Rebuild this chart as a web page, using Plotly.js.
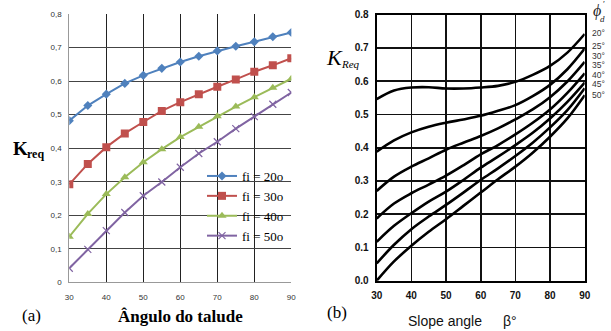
<!DOCTYPE html>
<html>
<head>
<meta charset="utf-8">
<script src="https://cdn.plot.ly/plotly-3.0.1.min.js"></script>
<style>html,body{margin:0;padding:0;background:#fff;}#chart{width:611px;height:331px;}</style>
</head>
<body>
<div id="chart"></div>
<script>
// ---------- Panel (a) data ----------
const anglesA = [30,35,40,45,50,55,60,65,70,75,80,85,90];
const seriesNamesA = ["fi = 20o","fi = 30o","fi = 40o","fi = 50o"];
const fi20 = [0.482,0.527,0.561,0.593,0.617,0.638,0.657,0.674,0.690,0.704,0.717,0.732,0.745];
const fi30 = [0.292,0.353,0.403,0.444,0.478,0.511,0.537,0.561,0.583,0.605,0.628,0.647,0.668];
const fi40 = [0.136,0.204,0.263,0.313,0.358,0.397,0.433,0.464,0.495,0.524,0.552,0.580,0.607];
const fi50 = [0.042,0.098,0.154,0.208,0.258,0.299,0.343,0.384,0.419,0.458,0.494,0.531,0.566];
const yTickValsA = [0,0.1,0.2,0.3,0.4,0.5,0.6,0.7,0.8];
const yTickTextA = ["0","0,1","0,2","0,3","0,4","0,5","0,6","0,7","0,8"];
const xTickValsA = [30,40,50,60,70,80,90];

// ---------- Panel (b) data ----------
const anglesB = [30,35,40,45,50,55,60,65,70,75,80,85,90];
const phiLabelsB = ["20°","25°","30°","35°","40°","45°","50°"];
const phi20 = [0.546,0.572,0.581,0.582,0.578,0.578,0.581,0.586,0.598,0.619,0.646,0.686,0.742];
const phi25 = [0.388,0.422,0.446,0.463,0.475,0.485,0.496,0.511,0.528,0.555,0.589,0.636,0.698];
const phi30 = [0.270,0.313,0.343,0.368,0.394,0.415,0.435,0.458,0.485,0.515,0.552,0.599,0.658];
const phi35 = [0.187,0.232,0.263,0.289,0.316,0.347,0.380,0.408,0.440,0.475,0.515,0.565,0.624];
const phi40 = [0.117,0.165,0.203,0.238,0.268,0.303,0.340,0.373,0.408,0.445,0.488,0.538,0.596];
const phi45 = [0.052,0.108,0.155,0.193,0.228,0.265,0.303,0.338,0.375,0.415,0.461,0.513,0.579];
const phi50 = [0.000,0.058,0.105,0.147,0.185,0.225,0.265,0.305,0.343,0.385,0.433,0.488,0.558];
const yTickValsB = [0,0.1,0.2,0.3,0.4,0.5,0.6,0.7,0.8];
const xTickValsB = [30,40,50,60,70,80,90];

const W = 611, H = 331;
const px = v => v / W;
const py = v => 1 - v / H;

const colorsA = ["#4F81BD","#C0504D","#9BBB59","#8064A2"];
const symbolsA = ["diamond","square","triangle-up","x-thin-open"];
const sizesA = [7,8,8,7];
const dataA = [fi20, fi30, fi40, fi50];

const traces = [];
dataA.forEach((ys, i) => {
  traces.push({
    x: anglesA, y: ys, name: seriesNamesA[i], type: "scatter", mode: "lines+markers",
    xaxis: "x", yaxis: "y",
    line: {color: colorsA[i], width: 2},
    marker: {symbol: symbolsA[i], size: sizesA[i], color: colorsA[i], line: {color: colorsA[i], width: i === 3 ? 1.2 : 0}}
  });
});

const dataB = [phi20, phi25, phi30, phi35, phi40, phi45, phi50];
dataB.forEach((ys, i) => {
  traces.push({
    x: anglesB, y: ys, name: phiLabelsB[i], type: "scatter", mode: "lines",
    xaxis: "x2", yaxis: "y2", showlegend: false,
    line: {color: "#000", width: 2.6, shape: "spline", smoothing: 1}
  });
});

const annotations = [
  {text: "<b>K</b>", x: px(20), y: py(148), font: {family: "Liberation Serif", size: 19, color: "#000"}},
  {text: "<b>req</b>", x: px(35.5), y: py(154), font: {family: "Liberation Serif", size: 12, color: "#000"}},
  {text: "<b>Ângulo do talude</b>", x: px(180), y: py(316), font: {family: "Liberation Serif", size: 17, color: "#000"}},
  {text: "(a)", x: px(31), y: py(315), font: {family: "Liberation Serif", size: 17, color: "#000"}},
  {text: "(b)", x: px(337), y: py(312), font: {family: "Liberation Serif", size: 17, color: "#000"}},
  {text: "Slope angle", x: px(445), y: py(321), font: {family: "Liberation Sans", size: 14, color: "#111"}},
  {text: "β°", x: px(510), y: py(321), font: {family: "Liberation Sans", size: 14, color: "#111"}},
  {text: "<i>K</i>", x: px(334), y: py(57), font: {family: "Liberation Serif", size: 22, color: "#000"}},
  {text: "<i>Req</i>", x: px(350), y: py(64), font: {family: "Liberation Serif", size: 11, color: "#000"}},
  {text: "<i>ϕ</i>", x: px(597), y: py(11), font: {family: "Liberation Serif", size: 16, color: "#222"}},
  {text: "<i>d</i>", x: px(602.5), y: py(19), font: {family: "Liberation Serif", size: 9, color: "#222"}},
  {text: "ʹ", x: px(604), y: py(4), font: {family: "Liberation Serif", size: 9, color: "#222"}}
];
const phiLabelY = [32.5,45.5,55.5,65,75,84.5,94.5];
phiLabelsB.forEach((t, i) => {
  annotations.push({text: t, x: px(598), y: py(phiLabelY[i]), font: {family: "Liberation Sans", size: 8.5, color: "#333"}});
});
annotations.forEach(a => { a.xref = "paper"; a.yref = "paper"; a.showarrow = false; a.xanchor = "center"; a.yanchor = "middle"; });

const layout = {
  width: W, height: H,
  margin: {l: 0, r: 0, t: 0, b: 0},
  paper_bgcolor: "#fff", plot_bgcolor: "rgba(0,0,0,0)",
  showlegend: true,
  legend: {
    x: px(202), y: py(161), xanchor: "left", yanchor: "top",
    bgcolor: "rgba(0,0,0,0)", borderwidth: 0,
    font: {family: "Liberation Serif", size: 13, color: "#000"},
    tracegroupgap: 0, itemwidth: 30
  },
  xaxis: {
    domain: [px(69.3), px(291.3)], range: [30, 90], tickvals: xTickValsA,
    showgrid: true, gridcolor: "#222", gridwidth: 1, zeroline: false,
    showline: true, linecolor: "#999", linewidth: 1,
    ticks: "outside", ticklen: 7, tickcolor: "rgba(0,0,0,0)",
    tickfont: {family: "Liberation Sans", size: 8, color: "#333"}, fixedrange: true
  },
  yaxis: {
    domain: [py(282.3), py(14)], range: [0, 0.8], tickvals: yTickValsA, ticktext: yTickTextA,
    showgrid: true, gridcolor: "#444", gridwidth: 1, zeroline: false,
    showline: true, linecolor: "#999", linewidth: 1,
    ticks: "outside", ticklen: 5, tickcolor: "rgba(0,0,0,0)",
    tickfont: {family: "Liberation Sans", size: 8, color: "#333"}, fixedrange: true
  },
  xaxis2: {
    domain: [px(376.7), px(584.7)], range: [30, 90], tickvals: xTickValsB, anchor: "y2",
    showgrid: true, gridcolor: "#111", gridwidth: 1.6, zeroline: false,
    showline: true, mirror: true, linecolor: "#000", linewidth: 2,
    ticks: "outside", ticklen: 4, tickcolor: "rgba(0,0,0,0)",
    tickfont: {family: "Liberation Sans", size: 10, color: "#111", weight: "bold"}, fixedrange: true
  },
  yaxis2: {
    domain: [py(280.7), py(14.7)], range: [0, 0.8], tickvals: yTickValsB, tickformat: ".1f", anchor: "x2",
    showgrid: true, gridcolor: "#111", gridwidth: 1.6, zeroline: false,
    showline: true, mirror: true, linecolor: "#000", linewidth: 2,
    ticks: "outside", ticklen: 4, tickcolor: "rgba(0,0,0,0)",
    tickfont: {family: "Liberation Sans", size: 10, color: "#111", weight: "bold"}, fixedrange: true
  },
  annotations: annotations
};

Plotly.newPlot("chart", traces, layout, {staticPlot: true, displayModeBar: false});
</script>
</body>
</html>
